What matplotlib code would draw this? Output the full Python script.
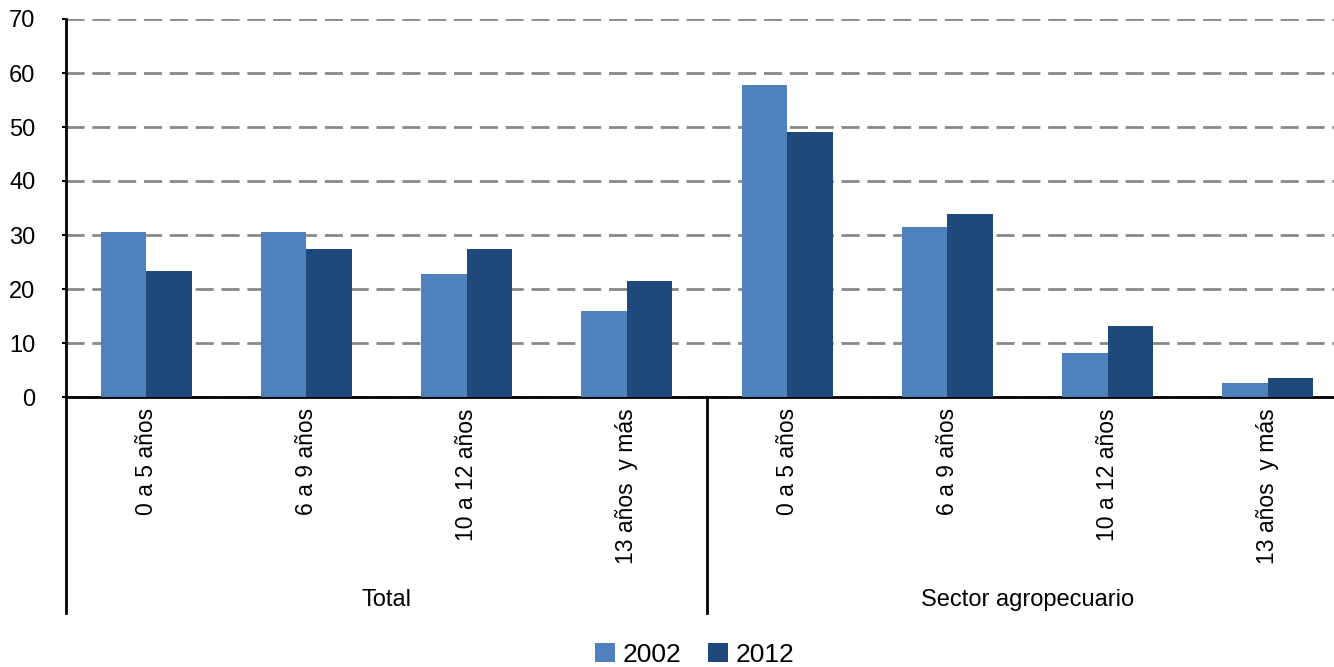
import matplotlib.pyplot as plt
import matplotlib.transforms as mtransforms
import numpy as np

plt.rcParams['font.family'] = ['Liberation Sans', 'DejaVu Sans']

# data
groups = ['Total', 'Sector agropecuario']
categories = ['0 a 5 años', '6 a 9 años', '10 a 12 años', '13 años  y más']
years = ['2002', '2012']
vals_2002 = [30.6, 30.6, 22.8, 15.9, 57.8, 31.5, 8.1, 2.6]
vals_2012 = [23.3, 27.4, 27.4, 21.5, 49.0, 33.8, 13.1, 3.5]
colors = ['#4F81BD', '#1F497D']

fig = plt.figure(figsize=(13.34, 6.67), dpi=100)
# plot area runs a little past the right edge of the image, as in the reference
ax = fig.add_axes([66 / 1334, 1 - 397 / 667, (1348 - 66) / 1334, (397 - 19) / 667])

n = len(vals_2002)
x = np.arange(n)
w = 0.284
ax.bar(x - w / 2, vals_2002, w, color=colors[0], label=years[0], zorder=3)
ax.bar(x + w / 2, vals_2012, w, color=colors[1], label=years[1], zorder=3)

ax.set_xlim(-0.5, n - 0.5)
ax.set_ylim(0, 70)
ax.set_yticks(range(0, 71, 10))
ax.yaxis.grid(True, linestyle=(0, (6.5, 2.8)), color='#898989', linewidth=2, zorder=0)
ax.tick_params(axis='y', labelsize=17, length=3, width=1.5, pad=19)
ax.tick_params(axis='x', length=0, pad=8)
ax.set_xticks(x)
ax.set_xticklabels(categories * len(groups), rotation=90, fontsize=16.5, va='top')

for s in ['top', 'right']:
    ax.spines[s].set_visible(False)
ax.spines['left'].set_linewidth(2)
ax.spines['bottom'].set_linewidth(2)

# group separators and labels below the axis
trans = mtransforms.blended_transform_factory(ax.transData, fig.transFigure)
y_low = 1 - 613 / 667
y_top = 1 - 397 / 667
for sep in [-0.5, 3.5]:
    ax.plot([sep, sep], [y_low, y_top], transform=trans, color='black',
            linewidth=2, clip_on=False)
for i, g in enumerate(groups):
    ax.text(1.5 + 4 * i, 1 - 600 / 667, g, transform=trans, ha='center',
            va='center', fontsize=17)

fig.legend(loc='center', bbox_to_anchor=(0.521, 1 - 655 / 667), ncol=2,
           frameon=False, fontsize=19, handlelength=0.75, handleheight=0.75,
           handletextpad=0.3, columnspacing=1.0)

fig.savefig('out.png', dpi=100)
